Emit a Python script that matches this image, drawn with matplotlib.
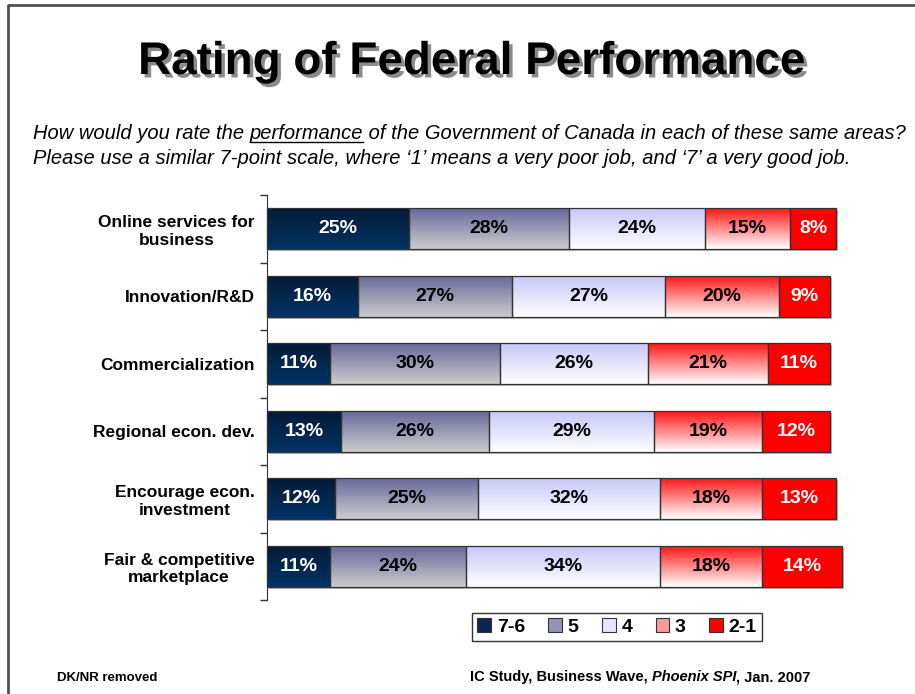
#!/usr/bin/env python3
"""Rating of Federal Performance - stacked 100% bar chart with gradient fills."""

import numpy as np
import matplotlib
matplotlib.use('Agg')
import matplotlib.pyplot as plt
from matplotlib.colors import to_rgb
from matplotlib.lines import Line2D
from matplotlib.patches import Patch
import matplotlib.patheffects as pe

plt.rcParams['font.family'] = ['Liberation Sans', 'DejaVu Sans']

categories = [
    'Online services for\nbusiness',
    'Innovation/R&D',
    'Commercialization',
    'Regional econ. dev.',
    'Encourage econ.\ninvestment',
    'Fair & competitive\nmarketplace',
]
series_names = ['7-6', '5', '4', '3', '2-1']
values = {
    '7-6': [25, 16, 11, 13, 12, 11],
    '5':   [28, 27, 30, 26, 25, 24],
    '4':   [24, 27, 26, 29, 32, 34],
    '3':   [15, 20, 21, 19, 18, 18],
    '2-1': [8, 9, 11, 12, 13, 14],
}
# (top colour, bottom colour) of each segment's vertical gradient
gradients = {
    '7-6': ('#061a36', '#003366'),
    '5':   ('#66669a', '#cccccc'),
    '4':   ('#c6c6f8', '#ffffff'),
    '3':   ('#ff1010', '#ffffff'),
    '2-1': ('#ff0000', '#ff0000'),
}
legend_colors = {
    '7-6': '#0a2850',
    '5':   '#9494b4',
    '4':   '#e4e4ff',
    '3':   '#ff9a9a',
    '2-1': '#ff0000',
}
label_colors = {'7-6': 'white', '5': 'black', '4': 'black', '3': 'black', '2-1': 'white'}

W, H = 915, 694
fig = plt.figure(figsize=(W / 100, H / 100), dpi=100)


def fx(px):
    return px / W


def fy(py):
    return 1 - py / H


def text_run(x_px, y_px, pieces, **kw):
    """Write (text, extra-kwargs) pieces one after another on a shared baseline."""
    out = []
    x = fx(x_px)
    for s, extra in pieces:
        t = fig.text(x, fy(y_px), s, va='baseline', ha='left', **{**kw, **extra})
        fig.canvas.draw()
        x = t.get_window_extent().x1 / fig.bbox.width
        out.append(t)
    return out


ax = fig.add_axes([fx(267), fy(600), fx(836) - fx(267), fy(195) - fy(600)])

n = len(categories)
ypos = np.arange(n)[::-1]
bar_h = 0.61

left = np.zeros(n)
for name in series_names:
    vals = np.array(values[name], dtype=float)
    # white base with a soft drop shadow
    base = ax.barh(ypos, vals, left=left, height=bar_h, color='white',
                   edgecolor='none', zorder=1, clip_on=False)
    for p in base:
        p.set_path_effects([pe.SimplePatchShadow(offset=(1.5, -1.5),
                                                 shadow_rgbFace='#b8b8b8', alpha=1.0),
                            pe.Normal()])
    top, bot = gradients[name]
    grad = np.linspace(0, 1, 64)[:, None, None]
    img = (1 - grad) * np.array(to_rgb(top)) + grad * np.array(to_rgb(bot))
    for p in base:
        x0, y0 = p.get_x(), p.get_y()
        im = ax.imshow(img, extent=(x0, x0 + p.get_width(), y0, y0 + p.get_height()),
                       origin='upper', aspect='auto', interpolation='bilinear', zorder=2)
        im.set_clip_path(p)
    ax.barh(ypos, vals, left=left, height=bar_h, fill=False,
            edgecolor='#333333', linewidth=0.9, zorder=3, clip_on=False)
    for y, l, v in zip(ypos, left, vals):
        ax.text(l + v / 2, y, f'{v:.0f}%', ha='center', va='center',
                fontsize=14, fontweight='bold', color=label_colors[name], zorder=4)
    left += vals

ax.set_xlim(0, 100)
ax.set_ylim(-0.5, n - 0.5)
ax.set_yticks(ypos)
ax.set_yticklabels(categories, fontsize=12.5, fontweight='bold', ma='center')
ax.set_yticks(np.arange(-0.5, n), minor=True)
ax.tick_params(axis='y', which='major', length=0, pad=9)
ax.tick_params(axis='y', which='minor', length=5, width=1, color='#333333')
ax.xaxis.set_visible(False)
for s in ['top', 'right', 'bottom']:
    ax.spines[s].set_visible(False)
ax.spines['left'].set_color('#333333')
ax.patch.set_alpha(0)

# page border (top and left edges)
fig.add_artist(Line2D([fx(8), fx(8), 1], [0, fy(5), fy(5)], color='#505050', lw=2))

# title with drop shadow
fig.text(fx(472), fy(62), 'Rating of Federal Performance', ha='center', va='center',
         fontsize=33, fontweight='bold', color='black',
         path_effects=[pe.withSimplePatchShadow(offset=(2.5, -2.5),
                                               shadow_rgbFace='#8a8a8a', alpha=1.0)])

# question text; "performance" underlined
sub_kw = dict(fontsize=14.5, fontstyle='italic', color='black')
line1 = text_run(33, 139, [('How would you rate the ', {}),
                           ('performance', {}),
                           (' of the Government of Canada in each of these same areas?', {})],
                 **sub_kw)
fig.text(fx(33), fy(164),
         'Please use a similar 7-point scale, where \u20181\u2019 means a very poor job, '
         'and \u20187\u2019 a very good job.', va='baseline', **sub_kw)

bb = line1[1].get_window_extent()
uy = fy(139 + 3)
fig.add_artist(Line2D([bb.x0 / fig.bbox.width, bb.x1 / fig.bbox.width], [uy, uy],
                      color='black', lw=1))

# legend
handles = [Patch(facecolor=legend_colors[s], edgecolor='#333333', linewidth=0.8)
           for s in series_names]
fig.legend(handles, series_names, loc='center', bbox_to_anchor=(fx(617), fy(627)),
           ncol=5, frameon=True, fancybox=False, edgecolor='black',
           prop={'weight': 'bold', 'size': 14}, handlelength=0.7, handleheight=0.7,
           handletextpad=0.3, columnspacing=1.2, borderpad=0.25, borderaxespad=0)

# footer
fig.text(fx(57), fy(681), 'DK/NR removed', va='baseline',
         fontsize=9.5, fontweight='bold', color='black')
text_run(470, 681, [('IC Study, Business Wave, ', {}),
                    ('Phoenix SPI', {'fontstyle': 'italic'}),
                    (', Jan. 2007', {})],
         fontsize=10.5, fontweight='bold', color='black')

fig.savefig('out.png', dpi=100)
